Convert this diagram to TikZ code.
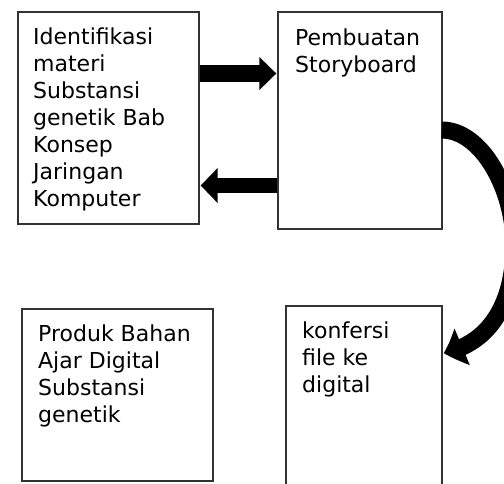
\documentclass[tikz,border=0pt]{standalone}
\usepackage{fontspec}
\setmainfont{DejaVu Sans}
\usetikzlibrary{arrows.meta,bending}
\begin{document}
\begin{tikzpicture}[x=1pt,y=-1pt,
  box/.style={draw=black!80,line width=1.3pt,rectangle,inner sep=0pt},
  txt/.style={anchor=base west,align=left,inner sep=0pt,font=\fontsize{22}{27}\selectfont}]
\useasboundingbox (0,0) rectangle (504,483);
\clip (0,0) rectangle (504,483);
\fill[white] (0,0) rectangle (504,483);
\node[box,minimum width=181pt,minimum height=212pt] (b1) at (108.5,118) {};
\node[box,minimum width=164pt,minimum height=217pt] (b2) at (360,120.5) {};
\node[box,minimum width=191pt,minimum height=172pt] (b3) at (117.5,395) {};
\node[box,minimum width=156pt,minimum height=189pt] (b4) at (364,400.5) {};
\node[txt] (t1) at (33,206) {Identifikasi\\materi\\Substansi\\genetik Bab\\Konsep\\Jaringan\\Komputer};
\node[txt] (t2) at (295,72) {Pembuatan\\Storyboard};
\node[txt] (t3) at (38,422) {Produk Bahan\\Ajar Digital\\Substansi\\genetik};
\node[txt] (t4) at (302,392) {konfersi\\file ke\\digital};
\coordinate (ra) at (0,73.5);
\coordinate (la) at (0,185.5);
\draw[line width=17pt,-{Triangle[length=17pt,width=32pt]}] (b1.east |- ra) -- ([xshift=-1pt]b2.west |- ra);
\draw[line width=15pt,-{Triangle[length=17pt,width=34pt]}] (b2.west |- la) -- ([xshift=1pt]b1.east |- la);
\coordinate (cs) at (442,130);
\coordinate (ce) at (443,353);
\draw[line width=17pt,-{Triangle[length=20pt,width=38pt,bend]}] ([xshift=-1pt]b2.east |- cs) .. controls (482,130) and (514,190) .. (514,245) .. controls (514,300) and (492,343) .. ([xshift=1pt]b4.east |- ce);
\end{tikzpicture}
\end{document}
